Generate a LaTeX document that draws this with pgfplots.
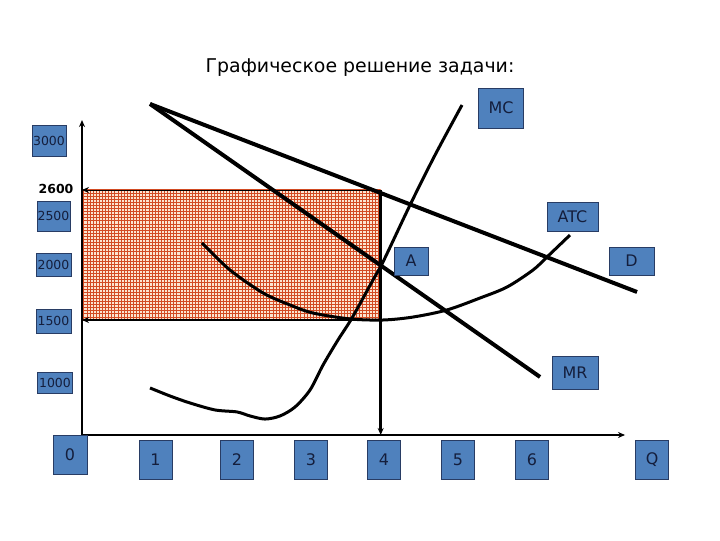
\documentclass[border=0pt]{standalone}
\usepackage{fontspec}
\setmainfont{DejaVu Sans}
\usepackage{pgfplots}
\pgfplotsset{compat=1.18}
\usetikzlibrary{patterns,arrows.meta}
\definecolor{boxfill}{RGB}{79,129,189}
\definecolor{boxdraw}{RGB}{40,60,100}
\definecolor{boxtext}{RGB}{20,30,60}
\definecolor{peach}{RGB}{252,228,208}
\definecolor{gridred}{RGB}{210,75,35}
\pgfdeclarepatternformonly{mygrid}{\pgfpoint{-1bp}{-1bp}}{\pgfpoint{4.1bp}{4.1bp}}{\pgfpoint{3.1bp}{3.1bp}}{%
  \pgfsetlinewidth{0.5bp}%
  \pgfpathmoveto{\pgfpoint{0bp}{-0.5bp}}\pgfpathlineto{\pgfpoint{0bp}{3.6bp}}%
  \pgfpathmoveto{\pgfpoint{-0.5bp}{0bp}}\pgfpathlineto{\pgfpoint{3.6bp}{0bp}}%
  \pgfusepath{stroke}}
\tikzset{
  lbl/.style={draw=boxdraw, line width=0.8bp, fill=boxfill, text=boxtext,
    font=\fontsize{16}{16}\selectfont, inner sep=0pt, anchor=center},
  num/.style={lbl, font=\fontsize{12.5}{12.5}\selectfont},
  arr/.style={-{Stealth[length=7bp,width=6bp]}},
}
\begin{document}
\begin{tikzpicture}
\begin{axis}[
  scale only axis, width=720bp, height=540bp,
  xmin=-1.098, xmax=8.544, ymin=-361.5, ymax=4207.7,
  axis lines=none, clip=false,
]
\path (rel axis cs:0,0) rectangle (rel axis cs:1,1);
% shaded profit rectangle
\addplot[fill=peach, draw=none,
  postaction={pattern=mygrid, pattern color=gridred}]
  coordinates {(0,1500) (4,1500) (4,2600) (0,2600) (0,1500)};
% axes
\addplot[line width=2bp, arr] coordinates {(0,527) (0,3192)};
\addplot[line width=2bp, arr] coordinates {(0,527) (7.272,527)};
% reference lines
\addplot[line width=0.8bp, arr] coordinates {(4,2600) (0,2600)};
\addplot[line width=2.5bp, arr] coordinates {(4,1500) (0,1500)};
\addplot[line width=2.5bp, arr] coordinates {(4,2600) (4,527)};
% D
\addplot[line width=4bp, black] coordinates {(0.911,3328) (7.433,1737)};
% MR
\addplot[line width=4bp, black] coordinates {(0.911,3328) (6.134,1018)};
% MC
\addplot[line width=3bp, black, smooth, tension=0.5] coordinates {
 (0.911,925) (1.179,857) (1.446,798) (1.781,739) (2.076,722) (2.250,688)
 (2.451,662) (2.652,688) (2.853,764) (3.054,908) (3.228,1119) (3.428,1331)
 (3.616,1517) (3.897,1839) (4.031,1991) (4.393,2473) (4.728,2896) (5.089,3319)};
% ATC
\addplot[line width=3bp, black, smooth, tension=0.5] coordinates {
 (1.607,2152) (1.982,1923) (2.424,1729) (2.786,1627) (3.094,1559) (3.589,1509)
 (4.031,1500) (4.433,1525) (4.888,1585) (5.330,1686) (5.692,1779) (6.040,1923)
 (6.227,2033) (6.535,2219)};
% title
\node[font=\fontsize{19}{19}\selectfont] at (axis cs:3.723,3632) {Графическое решение задачи:};
% curve labels
\node[lbl, minimum width=45bp, minimum height=40bp] at (axis cs:5.611,3294) {MC};
\node[lbl, minimum width=51bp, minimum height=29bp] at (axis cs:6.569,2376) {ATC};
\node[lbl, minimum width=34bp, minimum height=28bp] at (axis cs:4.406,1999) {A};
\node[lbl, minimum width=45bp, minimum height=28bp] at (axis cs:7.359,1999) {D};
\node[lbl, minimum width=46bp, minimum height=33bp] at (axis cs:6.602,1056) {MR};
% y labels
\node[num, minimum width=34bp, minimum height=31bp] at (axis cs:-0.442,3015) {3000};
\node[font=\bfseries\fontsize{12.5}{12.5}\selectfont] at (axis cs:-0.348,2608) {2600};
\node[num, minimum width=33bp, minimum height=30bp] at (axis cs:-0.382,2380) {2500};
\node[num, minimum width=35bp, minimum height=23bp] at (axis cs:-0.382,1965) {2000};
\node[num, minimum width=35bp, minimum height=24bp] at (axis cs:-0.382,1492) {1500};
\node[num, minimum width=35bp, minimum height=21bp] at (axis cs:-0.362,967) {1000};
% x labels
\node[lbl, minimum width=34bp, minimum height=39bp] at (axis cs:-0.161,362) {0};
\node[lbl, minimum width=33bp, minimum height=39bp] at (axis cs:0.984,320) {1};
\node[lbl, minimum width=33bp, minimum height=39bp] at (axis cs:2.076,320) {2};
\node[lbl, minimum width=33bp, minimum height=39bp] at (axis cs:3.067,320) {3};
\node[lbl, minimum width=33bp, minimum height=39bp] at (axis cs:4.045,320) {4};
\node[lbl, minimum width=33bp, minimum height=39bp] at (axis cs:5.036,320) {5};
\node[lbl, minimum width=33bp, minimum height=39bp] at (axis cs:6.027,320) {6};
\node[lbl, minimum width=33bp, minimum height=39bp] at (axis cs:7.634,320) {Q};
\end{axis}
\end{tikzpicture}
\end{document}
